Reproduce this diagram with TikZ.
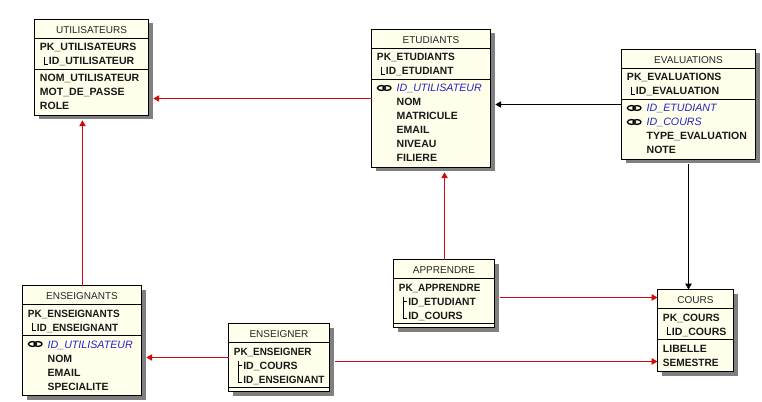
\documentclass[tikz,border=0pt]{standalone}
\usepackage{fontspec}
\setmainfont{Liberation Sans}
\usetikzlibrary{arrows.meta,fit}
\definecolor{boxfill}{HTML}{FFFFEC}
\definecolor{shadowgray}{HTML}{808080}
\definecolor{fkblue}{HTML}{2222CC}
\definecolor{linkred}{HTML}{CC0C0C}
\newcounter{fieldno}
\tikzset{
  x=0.75pt,y=-0.75pt,
  entitybox/.style={draw=black,line width=0.75pt,fill=boxfill,inner sep=0pt,outer sep=0pt,rectangle},
  entityrule/.style={draw=black,line width=0.75pt},
  entityshadow/.style={fill=shadowgray,draw=none},
  titletext/.style={inner sep=0pt,anchor=base,font=\fontsize{7.5}{9}\selectfont,text=black!85},
  fieldtext/.style={inner sep=0pt,anchor=base west,font=\fontsize{7.9}{9}\selectfont\bfseries,text=black!90},
  fktext/.style={inner sep=0pt,anchor=base west,font=\fontsize{8}{9}\selectfont\itshape,text=fkblue},
  treeline/.style={draw=black,line width=0.5pt},
  keyglyph/.style={draw=black,line width=1pt},
  redlink/.style={draw=linkred,line width=0.75pt,-{Triangle[length=4.4pt,width=4.8pt,fill=red!90!black]}},
  blacklink/.style={draw=black,line width=0.75pt,-{Triangle[length=4.4pt,width=4.8pt,fill=black]}},
  gapstart/.style={shorten <=3.75pt},
  gapend/.style={shorten >=3.6pt}
}
% name, x1, y1, x2, y2, title rule y, section rule y, title
\newcommand{\entity}[8]{%
  \fill[entityshadow] (#2+4,#3+4) rectangle (#4+4,#5+4);
  \node[entitybox,fit={(#2,#3)(#4,#5)}] (#1) {};
  \draw[entityrule] (#2,#6) -- (#4,#6);
  \draw[entityrule] (#2,#7) -- (#4,#7);
  \node[titletext] (#1-title) at ({(#2+#4)/2},#3+13.8) {#8};
}
\newcommand{\pkfield}[3]{\stepcounter{fieldno}\node[fieldtext] (f\arabic{fieldno}) at (#1,#2) {#3};}
% x, baseline, horizontal scale, text
\newcommand{\narrowfield}[4]{\stepcounter{fieldno}\node[fieldtext] (f\arabic{fieldno}) at (#1,#2) {\scalebox{#3}[1]{#4}};}
\newcommand{\fkfield}[3]{\stepcounter{fieldno}\node[fktext] (f\arabic{fieldno}) at (#1,#2) {#3};%
  \draw[keyglyph] (#1-15,#2-4) ellipse (4 and 2.4);
  \draw[keyglyph] (#1-9.4,#2-4) ellipse (4 and 2.4);}
% x of parent text, child baseline
\newcommand{\treelast}[2]{\draw[treeline] (#1+4.5,#2-8) -- (#1+4.5,#2-1) -- (#1+8.5,#2-1);}
\newcommand{\treetee}[2]{\draw[treeline] (#1+4.5,#2-8) -- (#1+4.5,#2+6) (#1+4.5,#2-3.5) -- (#1+8.5,#2-3.5);}
\begin{document}
\begin{tikzpicture}
\useasboundingbox (0,0) rectangle (762,402);
\fill[white] (0,0) rectangle (762,402);

% UTILISATEURS
\entity{uti}{34.5}{19.5}{148.5}{115.5}{38.5}{69.5}{UTILISATEURS}
\pkfield{39.7}{51}{PK\_UTILISATEURS}
\treelast{39.7}{65}
\pkfield{48.7}{65}{ID\_UTILISATEUR}
\pkfield{39.7}{82}{NOM\_UTILISATEUR}
\pkfield{39.7}{96}{MOT\_DE\_PASSE}
\pkfield{39.7}{110}{ROLE}

% ETUDIANTS
\entity{etu}{371.5}{29.5}{490.5}{167.5}{48.5}{79.5}{ETUDIANTS}
\narrowfield{376.7}{61}{0.965}{PK\_ETUDIANTS}
\treelast{376.7}{75}
\narrowfield{385.7}{75}{0.97}{ID\_ETUDIANT}
\fkfield{396.4}{92}{ID\_UTILISATEUR}
\pkfield{396.4}{106}{NOM}
\pkfield{396.4}{120}{MATRICULE}
\pkfield{396.4}{134}{EMAIL}
\pkfield{396.4}{148}{NIVEAU}
\pkfield{396.4}{162}{FILIERE}

% EVALUATIONS
\entity{eva}{621.5}{49.5}{755.5}{159.5}{68.5}{99.5}{EVALUATIONS}
\pkfield{626.7}{81}{PK\_EVALUATIONS}
\treelast{626.7}{95}
\pkfield{635.7}{95}{ID\_EVALUATION}
\fkfield{646.4}{112}{ID\_ETUDIANT}
\fkfield{646.4}{126}{ID\_COURS}
\pkfield{646.4}{140}{TYPE\_EVALUATION}
\pkfield{646.4}{154}{NOTE}

% ENSEIGNANTS
\entity{ens}{22.5}{285.5}{141.5}{395.5}{304.5}{335.5}{ENSEIGNANTS}
\narrowfield{27.7}{317}{0.95}{PK\_ENSEIGNANTS}
\treelast{27.7}{331}
\narrowfield{36.7}{331}{0.95}{ID\_ENSEIGNANT}
\fkfield{47.4}{348}{ID\_UTILISATEUR}
\pkfield{47.4}{362}{NOM}
\pkfield{47.4}{376}{EMAIL}
\narrowfield{47.4}{390}{0.98}{SPECIALITE}

% ENSEIGNER
\entity{esg}{228.5}{323.5}{329.5}{391.5}{342.5}{387.5}{ENSEIGNER}
\narrowfield{233.7}{355}{0.94}{PK\_ENSEIGNER}
\treetee{233.7}{369}
\treelast{233.7}{383}
\pkfield{243}{369}{ID\_COURS}
\narrowfield{243}{383}{0.95}{ID\_ENSEIGNANT}

% APPRENDRE
\entity{app}{393.5}{259.5}{494.5}{327.5}{278.5}{323.5}{APPRENDRE}
\narrowfield{398.7}{291}{0.94}{PK\_APPRENDRE}
\treetee{398.7}{305}
\treelast{398.7}{319}
\narrowfield{408}{305}{0.97}{ID\_ETUDIANT}
\pkfield{408}{319}{ID\_COURS}

% COURS
\entity{cou}{657.5}{289.5}{733.5}{371.5}{308.5}{339.5}{COURS}
\narrowfield{662.7}{321}{0.97}{PK\_COURS}
\treelast{662.7}{335}
\pkfield{671.7}{335}{ID\_COURS}
\pkfield{662.7}{352}{LIBELLE}
\narrowfield{662.7}{366}{0.96}{SEMESTRE}

% connectors
\draw[redlink,gapend] (etu.west |- 0,98.5) -- (uti.east |- 0,98.5);
\draw[redlink,gapend] (ens.north -| 82.5,0) -- (uti.south -| 82.5,0);
\draw[blacklink,gapend] (eva.west |- 0,104.5) -- (etu.east |- 0,104.5);
\draw[blacklink,gapstart] (eva.south -| 688.5,0) -- (cou.north -| 688.5,0);
\draw[redlink,gapend] (app.north -| 444.5,0) -- (etu.south -| 444.5,0);
\draw[redlink,gapstart] (app.east |- 0,297.5) -- (cou.west |- 0,297.5);
\draw[redlink,gapend] (esg.west |- 0,357.5) -- (ens.east |- 0,357.5);
\draw[redlink,gapstart] (esg.east |- 0,361.5) -- (cou.west |- 0,361.5);
\end{tikzpicture}
\end{document}
